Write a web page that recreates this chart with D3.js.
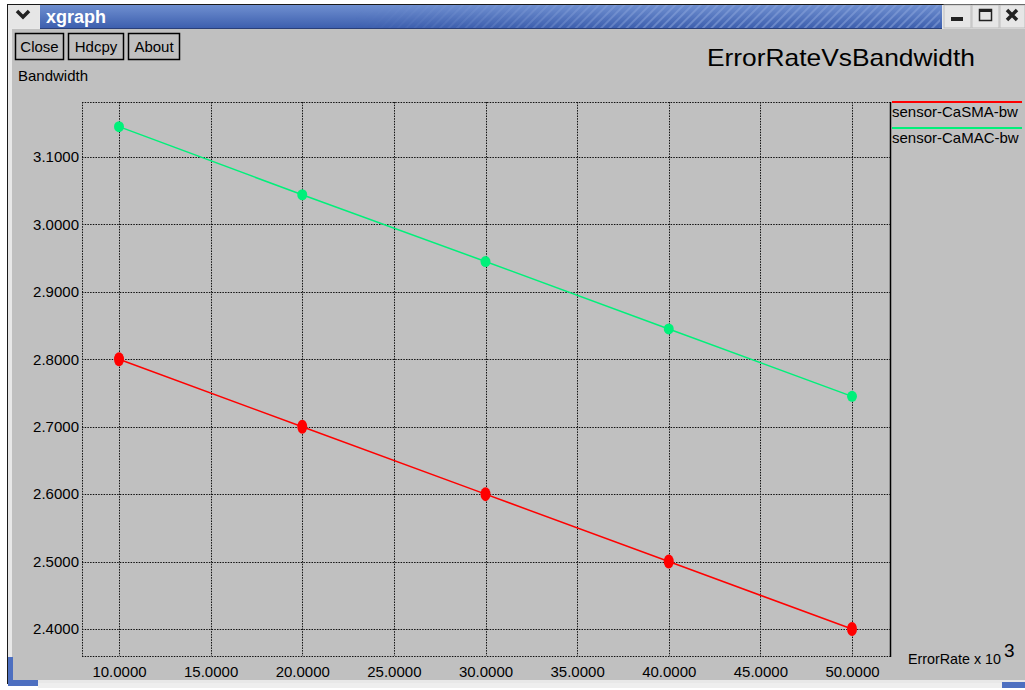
<!DOCTYPE html>
<html>
<head>
<meta charset="utf-8">
<script src="https://cdn.jsdelivr.net/npm/d3@7"></script>
<style>
  html, body { margin: 0; padding: 0; background: #fff; }
  svg { display: block; }
  text { font-family: "Liberation Sans", Arial, sans-serif; }
</style>
</head>
<body>
<svg id="chart" width="1025" height="690"></svg>
<script>
// Error rate (x 10^3) sampled at these points
const errorRates = [10, 20, 30, 40, 50];
// Bandwidth for each protocol
const casmaBw = [2.800, 2.700, 2.600, 2.500, 2.400];
const camacBw = [3.145, 3.044, 2.945, 2.845, 2.745];
const seriesNames = ["sensor-CaSMA-bw", "sensor-CaMAC-bw"];
const seriesColors = ["#ff0000", "#00f07a"];
const xTicks = [10, 15, 20, 25, 30, 35, 40, 45, 50];
const yTicks = [2.4, 2.5, 2.6, 2.7, 2.8, 2.9, 3.0, 3.1];

const svg = d3.select("#chart");
const W = 1025, H = 690;
const bg = "#c0c0c0";

// ---- window frame ----
svg.append("rect").attr("x", 0).attr("y", 0).attr("width", W).attr("height", H).attr("fill", "#ffffff");
svg.append("rect").attr("x", 7).attr("y", 4).attr("width", W - 7).attr("height", 680).attr("fill", "#1a1a1a");
svg.append("rect").attr("x", 8).attr("y", 5).attr("width", W - 8).attr("height", 678).attr("fill", "#e8e8e8");
svg.append("rect").attr("x", 12).attr("y", 29).attr("width", W - 12).attr("height", 651).attr("fill", bg);

// title bar gradient with hatch pattern
const defs = svg.append("defs");
const grad = defs.append("linearGradient").attr("id", "tb").attr("x1", 0).attr("x2", 0).attr("y1", 0).attr("y2", 1);
grad.append("stop").attr("offset", "0%").attr("stop-color", "#6f8fd0");
grad.append("stop").attr("offset", "100%").attr("stop-color", "#3d5fae");
const hatch = defs.append("pattern").attr("id", "hatch").attr("patternUnits", "userSpaceOnUse")
  .attr("width", 6).attr("height", 6).attr("patternTransform", "rotate(45)");
hatch.append("rect").attr("width", 2).attr("height", 6).attr("fill", "#8aa4da").attr("opacity", 0.55);
const hfade = defs.append("linearGradient").attr("id", "hfade").attr("x1", 0).attr("x2", 1);
hfade.append("stop").attr("offset", "0%").attr("stop-color", "#fff").attr("stop-opacity", 0);
hfade.append("stop").attr("offset", "35%").attr("stop-color", "#fff").attr("stop-opacity", 0);
hfade.append("stop").attr("offset", "70%").attr("stop-color", "#fff").attr("stop-opacity", 1);
hfade.append("stop").attr("offset", "100%").attr("stop-color", "#fff").attr("stop-opacity", 1);
const mask = defs.append("mask").attr("id", "hmask");
mask.append("rect").attr("x", 40).attr("y", 5).attr("width", 900).attr("height", 23).attr("fill", "url(#hfade)");

svg.append("rect").attr("x", 40).attr("y", 5).attr("width", 902).attr("height", 23).attr("fill", "url(#tb)");
svg.append("rect").attr("x", 40).attr("y", 5).attr("width", 902).attr("height", 23).attr("fill", "url(#hatch)").attr("mask", "url(#hmask)");
svg.append("line").attr("x1", 40).attr("x2", 942).attr("y1", 28.5).attr("y2", 28.5).attr("stroke", "#2a3f78");
svg.append("text").attr("x", 46).attr("y", 23).attr("fill", "#ffffff").attr("font-weight", "bold")
  .attr("font-size", 18).text("xgraph");

// menu button (left) and window buttons (right)
svg.append("rect").attr("x", 8).attr("y", 5).attr("width", 31).attr("height", 23).attr("fill", "#e6e6e6");
svg.append("path").attr("d", "M17,11 L23,17 L29,11").attr("fill", "none").attr("stroke", "#222").attr("stroke-width", 3.5);
[[944, 971], [972, 999], [1000, 1025]].forEach(([a, b]) => {
  svg.append("rect").attr("x", a).attr("y", 5).attr("width", b - a).attr("height", 23).attr("fill", "#e6e6e6")
    .attr("stroke", "#bdbdbd").attr("stroke-width", 1);
});
svg.append("rect").attr("x", 951).attr("y", 17).attr("width", 12).attr("height", 4).attr("fill", "#222");
svg.append("rect").attr("x", 979.5).attr("y", 9.5).attr("width", 12).attr("height", 11).attr("fill", "none").attr("stroke", "#222").attr("stroke-width", 1.5);
svg.append("rect").attr("x", 979).attr("y", 9).attr("width", 13).attr("height", 3).attr("fill", "#222");
svg.append("path").attr("d", "M1007,10 L1017,20 M1017,10 L1007,20").attr("stroke", "#222").attr("stroke-width", 3.5);

// bottom-left / bottom-right corner accents
svg.append("path").attr("d", "M8,657 L13,657 L13,680 L38,680 L38,686 L8,686 Z").attr("fill", "#4d6fc0");
svg.append("rect").attr("x", 1002).attr("y", 682).attr("width", 23).attr("height", 6).attr("fill", "#4d6fc0");
svg.append("rect").attr("x", 38).attr("y", 683).attr("width", 964).attr("height", 5).attr("fill", "#eeeeee");

// ---- control buttons ----
[["Close", 15, 63], ["Hdcpy", 68, 123], ["About", 128, 179]].forEach(([t, a, b]) => {
  svg.append("rect").attr("x", a + 0.5).attr("y", 33.5).attr("width", b - a).attr("height", 26)
    .attr("fill", "none").attr("stroke", "#000").attr("stroke-width", 1.5);
  svg.append("text").attr("x", (a + b) / 2 + 0.5).attr("y", 52).attr("text-anchor", "middle")
    .attr("font-size", 15).attr("fill", "#000").text(t);
});
svg.append("text").attr("x", 18).attr("y", 81).attr("font-size", 15).attr("fill", "#000").text("Bandwidth");
svg.append("text").attr("x", 975).attr("y", 66).attr("text-anchor", "end").attr("font-size", 24)
  .attr("textLength", 268).attr("lengthAdjust", "spacingAndGlyphs").attr("fill", "#000").text("ErrorRateVsBandwidth");

// ---- plot area ----
const x = d3.scaleLinear().domain([10, 50]).range([119, 852]);
const y = d3.scaleLinear().domain([2.4, 3.1]).range([629, 157]);
const plotL = 82, plotR = 890, plotT = 102, plotB = 656;

const dotted = { stroke: "#111", "stroke-width": 1, "stroke-dasharray": "1.5,1.2" };
function dline(x1, y1, x2, y2) {
  const l = svg.append("line").attr("x1", x1).attr("y1", y1).attr("x2", x2).attr("y2", y2);
  Object.entries(dotted).forEach(([k, v]) => l.attr(k, v));
  return l;
}
// frame (dotted left/top/bottom)
dline(plotL + 0.5, plotT, plotL + 0.5, plotB);
dline(plotL, plotT + 0.5, plotR, plotT + 0.5);
dline(plotL, plotB + 0.5, plotR, plotB + 0.5);
// grid
xTicks.forEach(v => dline(Math.round(x(v)) + 0.5, plotT, Math.round(x(v)) + 0.5, plotB));
yTicks.forEach(v => dline(plotL, Math.round(y(v)) + 0.5, plotR, Math.round(y(v)) + 0.5));
// solid right edge
svg.append("line").attr("x1", plotR + 0.5).attr("x2", plotR + 0.5).attr("y1", plotT).attr("y2", plotB + 1)
  .attr("stroke", "#000").attr("stroke-width", 1.5);

// axis tick labels
const xAxis = d3.axisBottom(x).tickValues(xTicks).tickSize(0).tickPadding(0).tickFormat(d3.format(".4f"));
const gx = svg.append("g").attr("transform", `translate(0,${plotB + 10})`).call(xAxis);
gx.select(".domain").remove();
gx.selectAll("text").attr("font-size", 15).attr("fill", "#000").attr("font-family", "Liberation Sans, Arial, sans-serif");

const yAxis = d3.axisLeft(y).tickValues(yTicks).tickSize(0).tickPadding(0).tickFormat(d3.format(".4f"));
const gy = svg.append("g").attr("transform", `translate(${plotL - 3},0)`).call(yAxis);
gy.select(".domain").remove();
gy.selectAll("text").attr("font-size", 15).attr("fill", "#000").attr("font-family", "Liberation Sans, Arial, sans-serif");

// x axis caption with superscript exponent
svg.append("text").attr("x", 908).attr("y", 664).attr("font-size", 15)
  .attr("textLength", 93).attr("lengthAdjust", "spacingAndGlyphs").attr("fill", "#000").text("ErrorRate x 10");
svg.append("text").attr("x", 1004).attr("y", 657).attr("font-size", 19).attr("fill", "#000").text("3");

// ---- series ----
const series = [casmaBw, camacBw];
const line = d3.line().x((d, i) => x(errorRates[i])).y(d => y(d));
series.forEach((vals, si) => {
  svg.append("path").datum(vals).attr("d", line).attr("fill", "none")
    .attr("stroke", seriesColors[si]).attr("stroke-width", 1.5);
  svg.selectAll(null).data(vals).enter().append("ellipse")
    .attr("cx", (d, i) => x(errorRates[i]))
    .attr("cy", d => y(d))
    .attr("rx", 5).attr("ry", si === 0 ? 7 : 5.5)
    .attr("fill", seriesColors[si]);
});

// legend
seriesNames.forEach((n, i) => {
  const ly = 102 + i * 26;
  svg.append("line").attr("x1", 892).attr("x2", 1022).attr("y1", ly).attr("y2", ly)
    .attr("stroke", seriesColors[i]).attr("stroke-width", 2);
  svg.append("text").attr("x", 892).attr("y", ly + 15).attr("font-size", 15).attr("fill", "#000").text(n);
});
</script>
</body>
</html>
